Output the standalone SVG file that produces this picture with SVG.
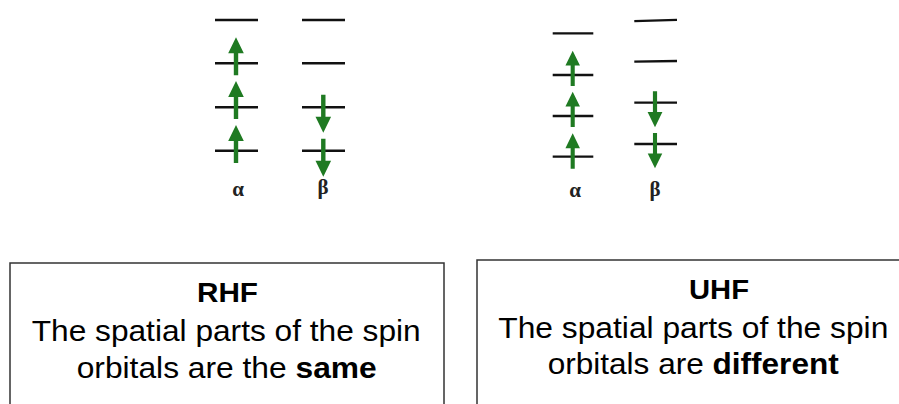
<svg xmlns="http://www.w3.org/2000/svg" xmlns:xlink="http://www.w3.org/1999/xlink" width="899" height="404" viewBox="0 0 899 404">
<style>
.lvl{stroke:#111;stroke-width:2.5;fill:none}
.arr{fill:#1f7a22}
.greek{font-family:"Liberation Serif","DejaVu Serif",serif;font-size:21px;font-weight:bold;fill:#222;text-anchor:middle}
.box{fill:#fff;stroke:#333;stroke-width:1.5}
.t{font-family:"Liberation Sans",Arial,sans-serif;font-size:30px;fill:#000}
.h{font-family:"Liberation Sans",Arial,sans-serif;font-size:28px;font-weight:bold;fill:#000}
.b{font-weight:bold}
</style>
<defs>
<path id="up" d="M0,0 L7.8,16 L2.2,16 L2.2,38 L-2.2,38 L-2.2,16 L-7.8,16 Z"/>
</defs>
<rect width="899" height="404" fill="#fff"/>
<g id="rhf-diagram">
<path class="lvl" d="M215,20H258M215,63.3H258M215,107.3H258M215,150.7H258M302,20H345M302,63.3H345M302,107.3H345M302,150.7H345"/>
<g class="arr">
<use xlink:href="#up" transform="translate(236,37.3)"/>
<use xlink:href="#up" transform="translate(236,81)"/>
<use xlink:href="#up" transform="translate(236,125)"/>
<use xlink:href="#up" transform="translate(323.3,132.7) rotate(180)"/>
<use xlink:href="#up" transform="translate(323.3,176.7) rotate(180)"/>
</g>
<text class="greek" x="238" y="196">α</text>
<text class="greek" x="323" y="194">β</text>
</g>
<g id="uhf-diagram">
<path class="lvl" d="M552.7,33.3H593.3M552.7,75H593.3M552.7,116H593.3M552.7,156.7H593.3M634.3,21.2L677,19.8M634.3,61.7L677,61M634.3,102.7H677M634.3,144H677" style="stroke-width:2.3"/>
<g class="arr">
<use xlink:href="#up" transform="translate(572.7,50.7) scale(0.93)"/>
<use xlink:href="#up" transform="translate(572.7,91.7) scale(0.93)"/>
<use xlink:href="#up" transform="translate(572.7,133.3) scale(0.93)"/>
<use xlink:href="#up" transform="translate(655,127.3) rotate(180) scale(0.95)"/>
<use xlink:href="#up" transform="translate(655,168.3) rotate(180) scale(0.93)"/>
</g>
<text class="greek" x="575" y="197">α</text>
<text class="greek" x="655" y="196">β</text>
</g>
<g id="rhf-box">
<rect class="box" x="10" y="263" width="434" height="170"/>
<text class="h" x="197" y="302" textLength="61" lengthAdjust="spacingAndGlyphs">RHF</text>
<text class="t" x="31.7" y="341" textLength="389" lengthAdjust="spacingAndGlyphs">The spatial parts of the spin</text>
<text class="t" x="76.7" y="378" textLength="300" lengthAdjust="spacingAndGlyphs">orbitals are the <tspan class="b">same</tspan></text>
</g>
<g id="uhf-box">
<rect class="box" x="477" y="260" width="500" height="170"/>
<text class="h" x="689" y="299" textLength="60" lengthAdjust="spacingAndGlyphs">UHF</text>
<text class="t" x="498.3" y="338" textLength="390" lengthAdjust="spacingAndGlyphs">The spatial parts of the spin</text>
<text class="t" x="547.7" y="374" textLength="291" lengthAdjust="spacingAndGlyphs">orbitals are <tspan class="b">different</tspan></text>
</g>
<g id="connectors"/>
</svg>
